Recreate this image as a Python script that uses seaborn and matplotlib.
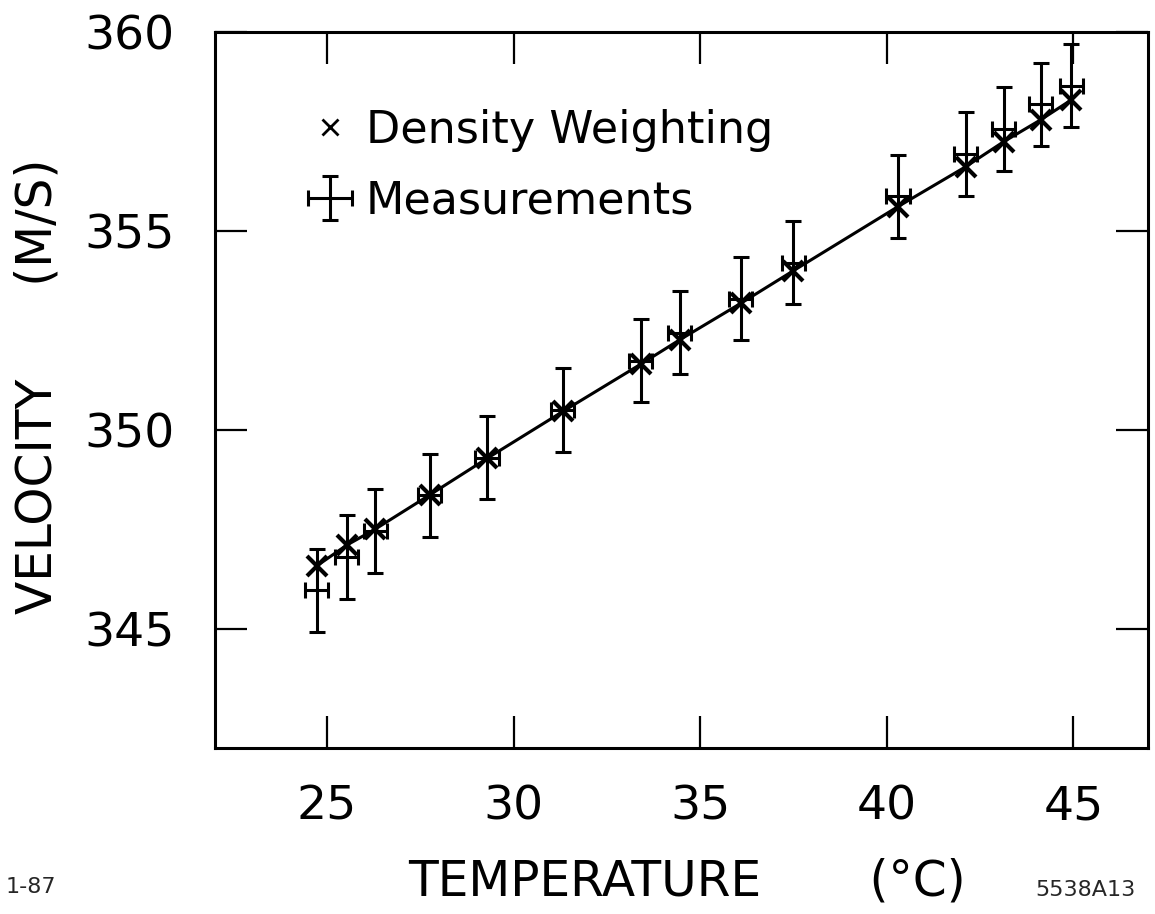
import matplotlib
matplotlib.use("Agg")
import matplotlib.pyplot as plt
from matplotlib.lines import Line2D
import seaborn as sns
import pandas as pd

# ---- data ----
temperature = [24.73, 25.53, 26.29, 27.75, 29.29, 31.32, 33.41, 34.45,
               36.09, 37.50, 40.30, 42.11, 43.13, 44.12, 44.94]
velocity_density = [346.58, 347.10, 347.50, 348.36, 349.28, 350.46, 351.65, 352.26,
                    353.18, 354.00, 355.61, 356.61, 357.24, 357.79, 358.29]
velocity_measured = [345.96, 346.80, 347.45, 348.35, 349.30, 350.50, 351.74, 352.44,
                     353.30, 354.20, 355.87, 356.93, 357.56, 358.18, 358.65]
temp_err = [0.31] * 15
vel_err = [1.05] * 15
x_ticks = [25, 30, 35, 40, 45]
y_ticks = [345, 350, 355, 360]

df = pd.DataFrame({"T": temperature, "Vdw": velocity_density, "Vm": velocity_measured})

sns.set_style("ticks")
plt.rcParams["font.family"] = ["DejaVu Sans"]

W, H = 1155, 914
L, R, T, B = 215, 1148, 32, 748
fig = plt.figure(figsize=(W / 100, H / 100), dpi=100)
ax = fig.add_axes([L / W, 1 - B / H, (R - L) / W, (B - T) / H])

sns.lineplot(data=df, x="T", y="Vdw", ax=ax, color="black", lw=2.2,
             marker="x", markersize=15, markeredgewidth=3, markeredgecolor="black")
meas = ax.errorbar(df["T"], df["Vm"], xerr=temp_err, yerr=vel_err, fmt="none",
                   ecolor="black", elinewidth=2.2, capsize=5.5, capthick=2.2)

ax.set_xlim(22, 47)
ax.set_ylim(342, 360)
ax.set_xticks(x_ticks)
ax.set_yticks(y_ticks)
ax.tick_params(direction="in", length=23, width=1.6, top=True, right=True,
               labelsize=34, colors="black")
ax.tick_params(axis="y", pad=29)
ax.tick_params(axis="x", pad=26)
for s in ax.spines.values():
    s.set_linewidth(2.2)
    s.set_color("black")
    s.set_visible(True)

ax.set_xlabel("TEMPERATURE       (°C)", fontsize=35, color="black")
ax.set_ylabel("VELOCITY      (M/S)", fontsize=35, color="black")
ax.xaxis.set_label_coords((687 - L) / (R - L), -(857 - B) / (B - T))
ax.yaxis.set_label_coords(-(L - 62) / (R - L), (B - 386) / (B - T))

handles = [Line2D([], [], marker="x", ls="none", color="black", markersize=12, markeredgewidth=2),
           meas]
ax.legend(handles, ["Density Weighting", "Measurements"], loc="upper left",
          bbox_to_anchor=((308 - L) / (R - L), (B - 109) / (B - T)), frameon=False,
          fontsize=32, borderaxespad=0, borderpad=0,
          handlelength=1.0, handletextpad=0.3, labelspacing=0.62, labelcolor="black")

fig.text(6 / W, 1 - 887 / H, "1-87", fontsize=16, va="center", ha="left")
fig.text(1136 / W, 1 - 890 / H, "5538A13", fontsize=16, va="center", ha="right")

fig.savefig("out.png", dpi=100, facecolor="white")
